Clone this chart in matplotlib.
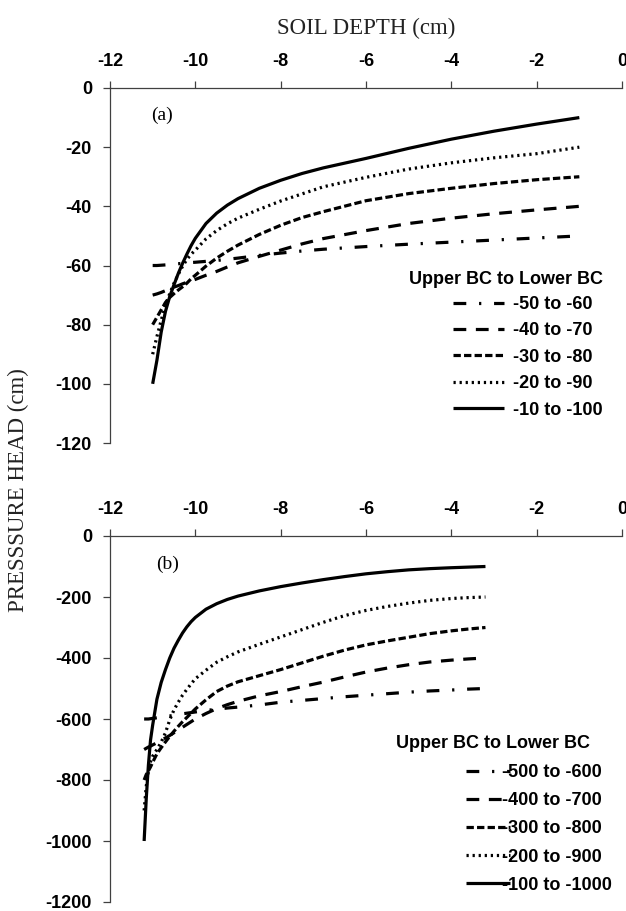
import numpy as np
import matplotlib
matplotlib.use("Agg")
import matplotlib.pyplot as plt

plt.rcParams["font.family"] = ["Liberation Sans", "DejaVu Sans"]
plt.rcParams["font.weight"] = "bold"
plt.rcParams["axes.unicode_minus"] = False

# ---- data ----
depth_a = [-11, -10.9, -10.8, -10.7, -10.6, -10.5, -10.4, -10.3, -10.2, -10.1, -10,
           -9.75, -9.5, -9.25, -9, -8.5, -8, -7.5, -7, -6, -5, -4, -3, -2, -1]
head_a_50_60 = [-60, -60, -59.9, -59.8, -59.6, -59.5, -59.4, -59.3, -59.1, -59, -58.9,
                -58.6, -58.3, -57.9, -57.5, -56.6, -55.8, -55.1, -54.5, -53.6, -52.8, -52.1, -51.4, -50.7, -50]
head_a_40_70 = [-70, -69.6, -69.1, -68.5, -67.9, -67.3, -66.8, -66.2, -65.7, -65.2, -64.7,
                -63.3, -62, -60.5, -59.1, -56.9, -54.8, -52.7, -50.9, -48.2, -45.8, -44, -42.5, -41.2, -40]
head_a_30_80 = [-80, -77.5, -75, -72.5, -70.8, -69.5, -68.3, -67.2, -66, -64.5, -63.3,
                -60.2, -57.5, -55.2, -53.1, -49.5, -46.4, -43.8, -41.8, -38.1, -35.7, -33.9, -32.3, -31, -30]
head_a_20_90 = [-90, -84, -78.5, -73.5, -69.5, -66, -63, -60.3, -58, -56.2, -54.8,
                -51, -48.2, -45.9, -44, -41, -38.2, -35.8, -33.4, -30.2, -27.4, -25.3, -23.6, -22.2, -20]
head_a_10_100 = [-100, -92, -82.5, -75.5, -70.5, -66.5, -62.7, -59.3, -56.2, -53.3, -50.8,
                 -45.8, -42.3, -39.6, -37.4, -33.9, -31.2, -28.9, -27, -23.8, -20.4, -17.3, -14.6, -12.2, -10]

depth_b = [-11.2, -11.15, -11.1, -11.05, -11.0, -10.9, -10.8, -10.7, -10.6, -10.5, -10.4,
           -10.3, -10.2, -10.1, -10.0, -9.75, -9.5, -9.25, -9.0, -8.5, -8.0, -7.5, -7.0,
           -6.5, -6.0, -5.5, -5.0, -4.5, -4.0, -3.6, -3.2]
head_b_500_600 = [-600, -600, -600, -599, -598, -596, -594, -592, -590, -588, -586,
                  -583, -581, -579, -577, -572, -568, -564, -561, -554, -545, -539, -533,
                  -527, -522, -517, -512, -508, -505, -502, -500]
head_b_400_700 = [-700, -696, -692, -689, -685, -678, -670, -662, -654, -645, -636,
                  -627, -618, -609, -600, -582, -566, -553, -542, -524, -510, -494, -479,
                  -462, -446, -433, -422, -413, -407, -403, -400]
head_b_300_800 = [-800, -782, -770, -757, -742, -714, -694, -675, -657, -640, -624,
                  -609, -595, -581, -567, -537, -510, -492, -478, -458, -438, -416, -394,
                  -374, -357, -344, -332, -320, -311, -305, -300]
head_b_200_900 = [-900, -820, -770, -740, -722, -700, -676, -645, -603, -570, -545,
                  -522, -503, -485, -468, -440, -414, -396, -380, -355, -331, -307, -283,
                  -261, -244, -231, -220, -211, -205, -202, -200]
head_b_100_1000 = [-1000, -860, -751, -669, -620, -535, -480, -438, -400, -368, -342,
                   -318, -298, -281, -267, -240, -222, -208, -197, -180, -166, -154, -143,
                   -133, -124, -117, -111, -107, -104, -102, -100]

labels_a = ["-50 to -60", "-40 to -70", "-30 to -80", "-20 to -90", "-10 to -100"]
labels_b = ["-500 to -600", "-400 to -700", "-300 to -800", "-200 to -900", "-100 to -1000"]

x_ticks = [-12, -10, -8, -6, -4, -2, 0]
y_ticks_a = [0, -20, -40, -60, -80, -100, -120]
y_ticks_b = [0, -200, -400, -600, -800, -1000, -1200]

# line styles (dash-dot, long dash, short dash, dotted, solid)
styles = [(0, (4, 4, 0.7, 4)), (0, (4, 3)), (0, (2.3, 1.0)), (0, (0.7, 1.2)), "-"]

W, H = 626, 911
fig = plt.figure(figsize=(W / 100, H / 100), dpi=100)

serif = "Liberation Serif"
axis_col = "#404040"
leg_prop = dict(family="Liberation Sans", weight="bold", size=13)


def px_axes(left, top, right, bottom):
    return fig.add_axes([left / W, 1 - bottom / H, (right - left) / W, (bottom - top) / H])


def style_axes(ax, yticks):
    ax.set_xlim(-12, 0)
    ax.set_ylim(yticks[-1], 0)
    ax.set_xticks(x_ticks)
    ax.set_yticks(yticks)
    ax.xaxis.tick_top()
    for s in ["right", "bottom"]:
        ax.spines[s].set_visible(False)
    for s in ["top", "left"]:
        ax.spines[s].set_color(axis_col)
        ax.spines[s].set_linewidth(0.9)
    ax.tick_params(axis="both", direction="out", length=5, width=0.9,
                   color=axis_col, pad=8, labelsize=13)


def draw_panel(ax, x, series, labels):
    for y, ls, lab in zip(series, styles, labels):
        ax.plot(x, y, color="black", lw=2.3, linestyle=ls, label=lab,
                solid_capstyle="butt", dash_capstyle="butt", clip_on=False)


# ---- panel (a) ----
ax1 = px_axes(110, 88, 622, 443)
style_axes(ax1, y_ticks_a)
draw_panel(ax1, depth_a,
           [head_a_50_60, head_a_40_70, head_a_30_80, head_a_20_90, head_a_10_100],
           labels_a)
ax1.text((162 - 110) / 512, 1 - (115 - 88) / 355, "(a)", transform=ax1.transAxes,
         family=serif, weight="normal", fontsize=14, ha="center", va="center")
ax1.text((603 - 110) / 512, 1 - (280 - 88) / 355, "Upper BC to Lower BC",
         transform=ax1.transAxes, fontsize=13, ha="right", va="center")
ax1.legend(loc="upper left", bbox_to_anchor=((453 - 110) / 512, 1 - (296 - 88) / 355),
           frameon=False, borderpad=0, borderaxespad=0, handlelength=2.8,
           handletextpad=0.5, labelspacing=0.52, prop=leg_prop)

# ---- panel (b) ----
ax2 = px_axes(110, 536, 622, 902)
style_axes(ax2, y_ticks_b)
draw_panel(ax2, depth_b,
           [head_b_500_600, head_b_400_700, head_b_300_800, head_b_200_900, head_b_100_1000],
           labels_b)
ax2.text((168 - 110) / 512, 1 - (564 - 536) / 366, "(b)", transform=ax2.transAxes,
         family=serif, weight="normal", fontsize=14, ha="center", va="center")
ax2.text((590 - 110) / 512, 1 - (743 - 536) / 366, "Upper BC to Lower BC",
         transform=ax2.transAxes, fontsize=13, ha="right", va="center")
ax2.legend(loc="upper left", bbox_to_anchor=((466 - 110) / 512, 1 - (764 - 536) / 366),
           frameon=False, borderpad=0, borderaxespad=0, handlelength=2.45,
           handletextpad=-0.45, labelspacing=0.62, prop=leg_prop)

# ---- shared axis titles ----
fig.text(366 / W, 1 - 28 / H, "SOIL DEPTH (cm)", family=serif, weight="normal",
         fontsize=16.5, ha="center", va="center", color="#222222")
fig.text(18 / W, 1 - 490 / H, "PRESSSURE HEAD (cm)", family=serif, weight="normal",
         fontsize=16.5, ha="center", va="center", rotation=90, color="#222222")

fig.savefig("out.png", dpi=100)
